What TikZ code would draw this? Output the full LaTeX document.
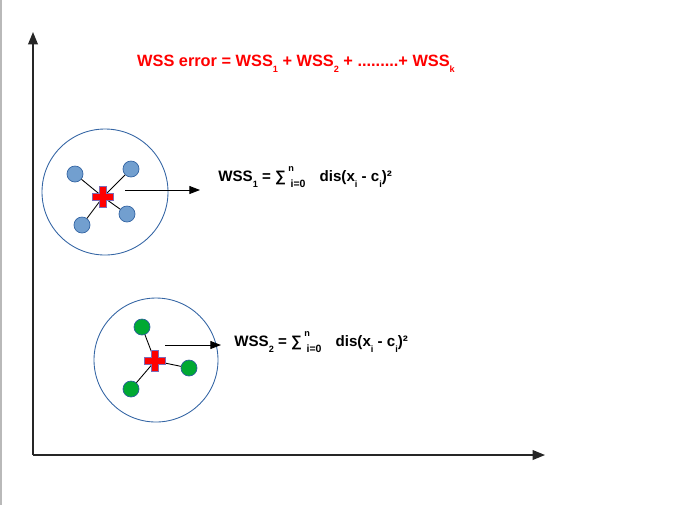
\documentclass[tikz,border=0pt]{standalone}
\usepackage{fontspec}
\setmainfont{Liberation Sans}
\usetikzlibrary{arrows.meta}
\definecolor{ErrRed}{HTML}{FF0000}
\definecolor{PtBlue}{HTML}{729FCF}
\definecolor{RimBlue}{HTML}{3465A4}
\definecolor{PtGreen}{HTML}{00A933}
\definecolor{RimGreen}{HTML}{2A6099}
\definecolor{CrossRim}{HTML}{7E6BB5}
\newcommand{\sbx}[1]{\raisebox{-0.8ex}{\fontsize{5.2}{6}\selectfont #1}}
\newcommand{\spx}[1]{\raisebox{1.15ex}{\fontsize{5.2}{6}\selectfont #1}}
\newcommand{\sumto}{∑\,\rlap{\spx{n}}\hspace{0.15em}\raisebox{-0.8ex}{\fontsize{6}{7}\selectfont i=0}\hspace{8pt}}
\tikzset{
  bluept/.style={circle,draw=RimBlue,fill=PtBlue,minimum size=0.32cm,inner sep=0pt},
  greenpt/.style={circle,draw=RimGreen,fill=PtGreen,minimum size=0.32cm,inner sep=0pt},
  rim/.style={draw=RimBlue,line width=0.5pt},
  spoke/.style={line width=0.5pt},
  outarrow/.style={-{Triangle[length=6pt,width=4.5pt]},line width=0.5pt},
  axisline/.style={-{Triangle[length=7pt,width=5.5pt]},line width=0.8pt,black!85},
  wsslabel/.style={anchor=base west,inner sep=0pt,font=\fontsize{8.6}{10}\selectfont\bfseries},
  centroid/.pic={\filldraw[fill=red,draw=CrossRim,line width=0.5pt] (-10.5,-3.5) -| (-3.5,-10.5) -| (3.5,-3.5) -| (10.5,3.5) -| (3.5,10.5) -| (-3.5,3.5) -| (-10.5,-3.5) -- cycle;}
}
\begin{document}
\begin{tikzpicture}[x=0.02cm,y=-0.02cm]
  \useasboundingbox (0,0) rectangle (682,505);
  \draw[gray!55,line width=1pt] (1,0) -- (1,505);
  % axes
  \coordinate (O) at (33,455); \coordinate (Ytop) at (33,32); \coordinate (Xend) at (545,455);
  \draw[axisline] (O) -- (Ytop); \draw[axisline] (O) -- (Xend);
  % title
  \node[anchor=base,inner sep=0pt,text=ErrRed,font=\fontsize{9.3}{11}\selectfont\bfseries] (title) at (296,66)
    {WSS error = WSS\sbx{1} + WSS\sbx{2} + .........+ WSS\sbx{k}};
  % first cluster
  \coordinate (c1) at (103,197);
  \draw[rim] (105,192) circle (63);
  \node[bluept] (p11) at (75,174) {}; \node[bluept] (p12) at (131,169) {};
  \node[bluept] (p13) at (82,225) {}; \node[bluept] (p14) at (127,214) {};
  \foreach \p in {p11,p12,p13,p14} \draw[spoke] (\p) -- (c1);
  \pic at (c1) {centroid};
  \coordinate (a1) at (125,190); \coordinate (b1) at (200,190);
  \draw[outarrow] (a1) -- (b1);
  \node[wsslabel] (wss1) at (218,181) {WSS\sbx{1} = \sumto dis(x\sbx{i} - c\sbx{i})²};
  % second cluster
  \coordinate (c2) at (155,361);
  \draw[rim] (156,360) circle (62);
  \node[greenpt] (p21) at (142,327) {}; \node[greenpt] (p22) at (189,368) {};
  \node[greenpt] (p23) at (131,389) {};
  \foreach \p in {p21,p22,p23} \draw[spoke] (\p) -- (c2);
  \pic at (c2) {centroid};
  \coordinate (a2) at (165,345); \coordinate (b2) at (221,345);
  \draw[outarrow] (a2) -- (b2);
  \node[wsslabel] (wss2) at (234,346) {WSS\sbx{2} = \sumto dis(x\sbx{i} - c\sbx{i})²};
\end{tikzpicture}
\end{document}
